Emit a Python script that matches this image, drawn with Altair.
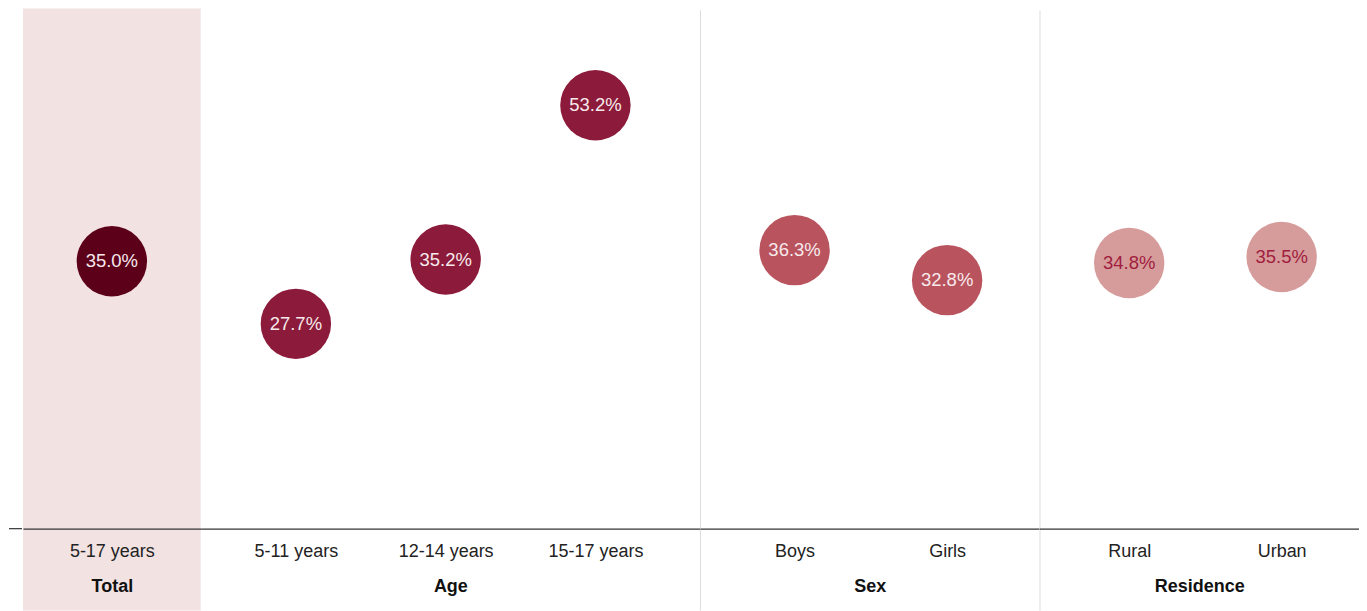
import altair as alt
import pandas as pd

categories = ["5-17 years", "5-11 years", "12-14 years", "15-17 years", "Boys", "Girls", "Rural", "Urban"]
groups = ["Total", "Age", "Age", "Age", "Sex", "Sex", "Residence", "Residence"]
values = [35.0, 27.7, 35.2, 53.2, 36.3, 32.8, 34.8, 35.5]

df = pd.DataFrame({"category": categories, "group": groups, "value": values})

FONT = "Liberation Sans"
H = 521
Y_DOMAIN = [3.8, 64.5]

# panel layout: (group, width, padding, align, circle colour, text colour)
panels_cfg = [
    ("Total", 178, 0.5, 0.5, "#5c0019", "#f7eaec"),
    ("Age", 500, 0.6667, 0.4765, "#8c1a3a", "#f7eaec"),
    ("Sex", 340, 0.6126, 0.506, "#b9535e", "#f7eaec"),
    ("Residence", 320, 0.548, 0.537, "#d69c9b", "#a01d3e"),
]


def panel(group, width, pad, align, color, tcolor, band=False, sep=False):
    sub = df[df["group"] == group]
    order = list(sub["category"])
    base = alt.Chart(sub).encode(
        x=alt.X(
            "category:N",
            sort=order,
            scale=alt.Scale(type="point", padding=pad, align=align),
            axis=alt.Axis(
                title=group,
                labelAngle=0,
                ticks=False,
                tickSize=0,
                domain=True,
                domainColor="#333333",
                domainWidth=1.2,
                labelFont=FONT,
                labelFontSize=18,
                labelColor="#222222",
                labelPadding=14,
                titleFont=FONT,
                titleFontSize=18,
                titleFontWeight="bold",
                titleColor="#111111",
                titlePadding=17,
                grid=False,
                zindex=1,
            ),
        ),
        y=alt.Y("value:Q", scale=alt.Scale(domain=Y_DOMAIN, nice=False, zero=False), axis=None),
    )
    circles = base.mark_circle(size=4970, opacity=1, color=color)
    labels = base.transform_calculate(
        label="format(datum.value, '.1f') + '%'"
    ).mark_text(font=FONT, fontSize=18.5, color=tcolor, align="center", baseline="middle").encode(
        text="label:N"
    )
    layers = []
    if band:
        layers.append(
            alt.Chart(alt.Data(values=[{}])).mark_rect(color="#f2e2e2").encode(
                x=alt.value(0), x2=alt.value(width), y=alt.value(0), y2=alt.value(H + 82)
            )
        )
    if sep:
        layers.append(
            alt.Chart(alt.Data(values=[{}])).mark_rule(color="#dcdcdc", strokeWidth=1).encode(
                x=alt.value(0.5), y=alt.value(2), y2=alt.value(H + 82)
            )
        )
    layers += [circles, labels]
    return alt.layer(*layers).properties(width=width, height=H)


spacer = alt.Chart(alt.Data(values=[{}])).mark_rule(color="#333333", strokeWidth=1.2).encode(
    x=alt.value(0), x2=alt.value(13), y=alt.value(H)
).properties(width=13, height=H)

charts = [spacer]
for i, (g, w, p, a, c, t) in enumerate(panels_cfg):
    charts.append(panel(g, w, p, a, c, t, band=(g == "Total"), sep=(g in ("Sex", "Residence"))))

chart = alt.hconcat(*charts, spacing=0).properties(padding=0).configure_view(stroke=None)

chart.save("out.html", embed_options={"renderer": "svg", "actions": False})
